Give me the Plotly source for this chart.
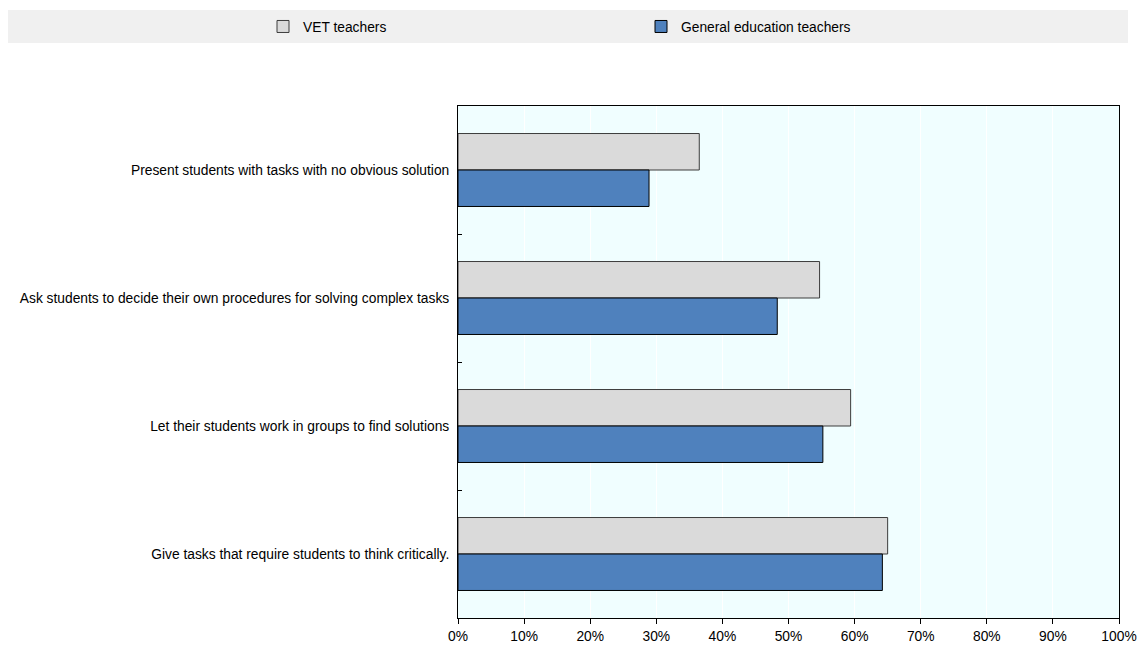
import plotly.graph_objects as go

categories = [
    "Present students with tasks with no obvious solution",
    "Ask students to decide their own procedures for solving complex tasks",
    "Let their students work in groups to find solutions",
    "Give tasks that require students to think critically.",
]
vet_values = [36.5, 54.7, 59.4, 65.0]
general_values = [28.9, 48.3, 55.2, 64.2]
series_names = ["VET teachers", "General education teachers"]
x_ticks = list(range(0, 101, 10))
x_tick_labels = [f"{v}%" for v in x_ticks]

W, H = 1137, 647
L, R, T, B = 458, 1119, 106, 618
pw, ph = R - L, B - T
FS = 13.8

fig = go.Figure()
fig.add_trace(go.Bar(
    y=categories, x=vet_values, orientation="h", name=series_names[0],
    marker=dict(color="#DADADA", line=dict(color="#3C3C3C", width=1)),
))
fig.add_trace(go.Bar(
    y=categories, x=general_values, orientation="h", name=series_names[1],
    marker=dict(color="#4F81BD", line=dict(color="#000000", width=1)),
))

# legend band
fig.add_shape(type="rect", xref="paper", yref="paper",
              x0=(8 - L) / pw, x1=(1128 - L) / pw,
              y0=(B - 43) / ph, y1=(B - 10) / ph,
              fillcolor="#F0F0F0", line=dict(width=0), layer="below")

fig.update_layout(
    autosize=True,
    margin=dict(l=L, r=W - R, t=T, b=H - B, pad=0, autoexpand=False),
    barmode="group", bargap=0.43, bargroupgap=0,
    plot_bgcolor="#F0FEFF", paper_bgcolor="white",
    font=dict(family="Liberation Sans, Arial, sans-serif", size=FS, color="#000000"),
    showlegend=True,
    legend=dict(orientation="h", x=(263 - L) / pw, xanchor="left",
                y=(B - 26.5) / ph, yanchor="middle",
                entrywidth=333, entrywidthmode="pixels",
                bgcolor="rgba(0,0,0,0)", itemwidth=30,
                font=dict(size=FS), traceorder="normal"),
    xaxis=dict(range=[0, 100], tickvals=x_ticks, ticktext=x_tick_labels,
               showgrid=True, gridcolor="white", gridwidth=1,
               ticks="outside", ticklen=5, tickcolor="black",
               showline=True, linecolor="black", linewidth=1, mirror=True,
               zeroline=False, automargin=False, tickfont=dict(size=FS)),
    yaxis=dict(autorange="reversed", tickson="boundaries",
               ticks="inside", ticklen=4, tickcolor="black",
               showline=True, linecolor="black", linewidth=1, mirror=True,
               showgrid=False, ticklabelstandoff=5, automargin=False,
               tickfont=dict(size=FS)),
)

fig.write_html(
    "out.html",
    config={"displayModeBar": False, "responsive": True},
    default_width=f"{W}px;position:absolute;left:0;top:0",
    default_height=f"{H}px",
)
